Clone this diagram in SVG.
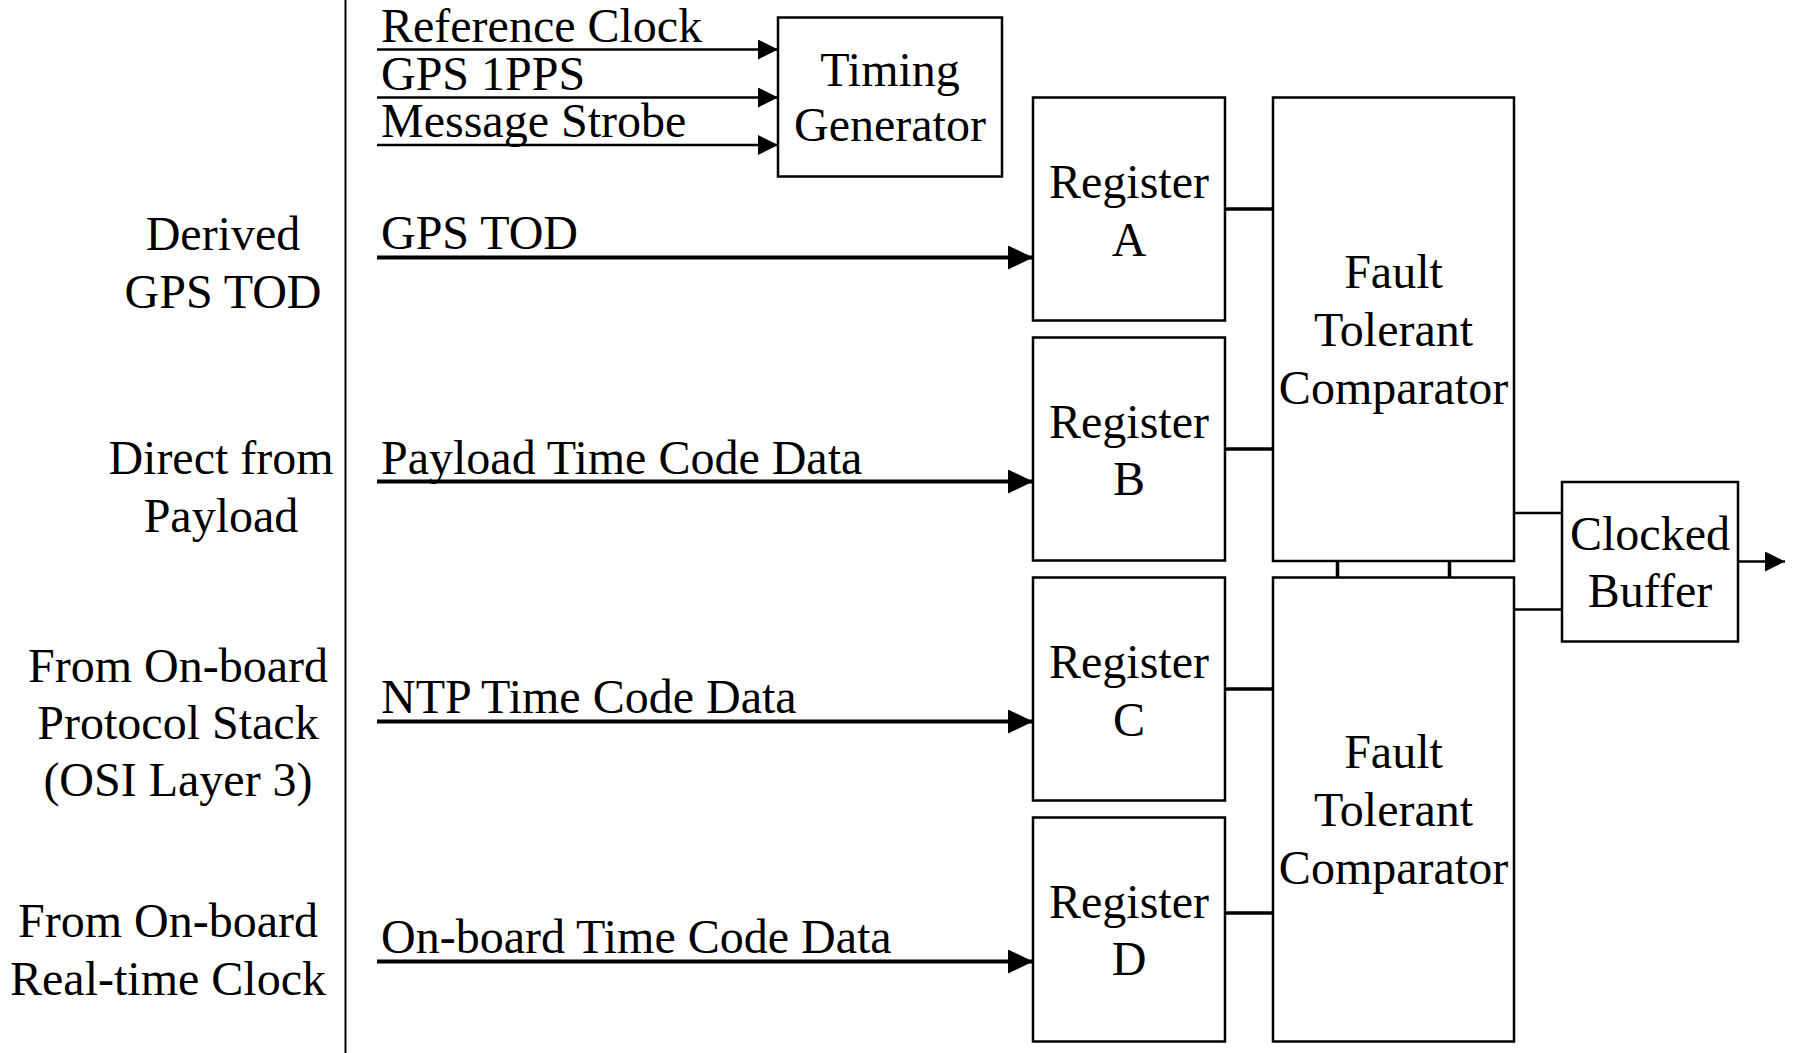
<svg xmlns="http://www.w3.org/2000/svg" width="1794" height="1053" viewBox="0 0 1794 1053">
<style>
text{font-family:"Liberation Serif","Times New Roman",serif;font-size:48px;fill:#000}
.c{text-anchor:middle}
.box{fill:#fff;stroke:#000;stroke-width:2.5}
.thin{stroke:#000;stroke-width:2.5;fill:none}
.thick{stroke:#000;stroke-width:4;fill:none}
.conn{stroke:#000;stroke-width:3.5;fill:none}
</style>
<defs>
<marker id="big" markerUnits="userSpaceOnUse" markerWidth="25" markerHeight="24" refX="25" refY="12" orient="auto"><path d="M0,0 L25,12 L0,24 z" fill="#000"/></marker>
<marker id="small" markerUnits="userSpaceOnUse" markerWidth="20" markerHeight="20" refX="20" refY="10" orient="auto"><path d="M0,0 L20,10 L0,20 z" fill="#000"/></marker>
</defs>
<rect width="1794" height="1053" fill="#fff"/>
<g id="divider"><line x1="345.5" y1="0" x2="345.5" y2="1053" stroke="#000" stroke-width="2"/></g>
<g id="source-labels">
<text class="c" x="223" y="250">Derived</text>
<text class="c" x="223" y="308">GPS TOD</text>
<text class="c" x="221" y="474">Direct from</text>
<text class="c" x="221" y="532">Payload</text>
<text class="c" x="178" y="682">From On-board</text>
<text class="c" x="178" y="739">Protocol Stack</text>
<text class="c" x="178" y="796">(OSI Layer 3)</text>
<text class="c" x="168" y="937">From On-board</text>
<text class="c" x="168" y="995">Real-time Clock</text>
</g>
<g id="connectors">
<line class="thin" x1="377" y1="49.5" x2="778" y2="49.5" marker-end="url(#small)"/>
<line class="thin" x1="377" y1="97.5" x2="778" y2="97.5" marker-end="url(#small)"/>
<line class="thin" x1="377" y1="145" x2="778" y2="145" marker-end="url(#small)"/>
<line class="thick" x1="377" y1="257.5" x2="1033" y2="257.5" marker-end="url(#big)"/>
<line class="thick" x1="377" y1="481.5" x2="1033" y2="481.5" marker-end="url(#big)"/>
<line class="thick" x1="377" y1="721.5" x2="1033" y2="721.5" marker-end="url(#big)"/>
<line class="thick" x1="377" y1="961.5" x2="1033" y2="961.5" marker-end="url(#big)"/>
<line class="conn" x1="1225" y1="209" x2="1273" y2="209"/>
<line class="conn" x1="1225" y1="449" x2="1273" y2="449"/>
<line class="conn" x1="1225" y1="689" x2="1273" y2="689"/>
<line class="conn" x1="1225" y1="913" x2="1273" y2="913"/>
<line class="conn" x1="1337.5" y1="561" x2="1337.5" y2="578"/>
<line class="conn" x1="1449.5" y1="561" x2="1449.5" y2="578"/>
<line class="thin" x1="1514" y1="513" x2="1562" y2="513"/>
<line class="thin" x1="1514" y1="609.5" x2="1562" y2="609.5"/>
<line class="thin" x1="1738" y1="561.5" x2="1785" y2="561.5" marker-end="url(#small)"/>
</g>
<g id="input-labels">
<text x="381" y="42">Reference Clock</text>
<text x="381" y="90">GPS 1PPS</text>
<text x="381" y="137">Message Strobe</text>
<text x="381" y="249">GPS TOD</text>
<text x="381" y="474">Payload Time Code Data</text>
<text x="381" y="713">NTP Time Code Data</text>
<text x="381" y="953">On-board Time Code Data</text>
</g>
<g id="timing-generator">
<rect class="box" x="778" y="17.5" width="224" height="159"/>
<text class="c" x="890" y="86">Timing</text>
<text class="c" x="890" y="141">Generator</text>
</g>
<g id="register-a">
<rect class="box" x="1033" y="97.5" width="192" height="223"/>
<text class="c" x="1129" y="198">Register</text>
<text class="c" x="1129" y="256">A</text>
</g>
<g id="register-b">
<rect class="box" x="1033" y="337.5" width="192" height="223"/>
<text class="c" x="1129" y="438">Register</text>
<text class="c" x="1129" y="495">B</text>
</g>
<g id="register-c">
<rect class="box" x="1033" y="577.5" width="192" height="223"/>
<text class="c" x="1129" y="678">Register</text>
<text class="c" x="1129" y="736">C</text>
</g>
<g id="register-d">
<rect class="box" x="1033" y="817.5" width="192" height="224"/>
<text class="c" x="1129" y="918">Register</text>
<text class="c" x="1129" y="975">D</text>
</g>
<g id="comparator-1">
<rect class="box" x="1273" y="97.5" width="241" height="463.5"/>
<text class="c" x="1393.5" y="288">Fault</text>
<text class="c" x="1393.5" y="346">Tolerant</text>
<text class="c" x="1393.5" y="404">Comparator</text>
</g>
<g id="comparator-2">
<rect class="box" x="1273" y="577.5" width="241" height="464"/>
<text class="c" x="1393.5" y="768">Fault</text>
<text class="c" x="1393.5" y="826">Tolerant</text>
<text class="c" x="1393.5" y="884">Comparator</text>
</g>
<g id="clocked-buffer">
<rect class="box" x="1562" y="482" width="176" height="159.5"/>
<text class="c" x="1650" y="550">Clocked</text>
<text class="c" x="1650" y="607">Buffer</text>
</g>
</svg>
